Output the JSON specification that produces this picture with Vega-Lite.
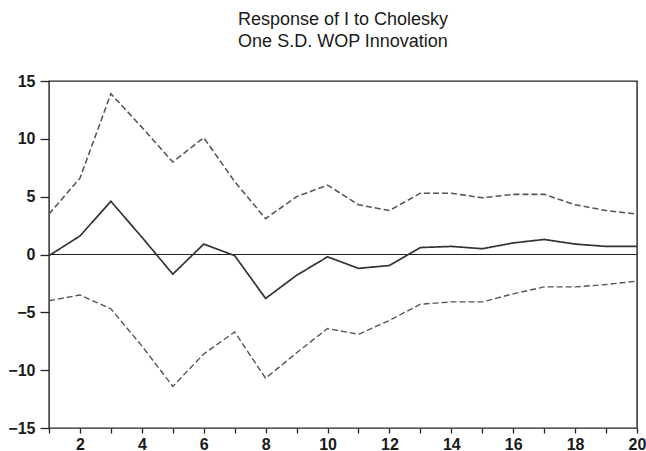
{
  "$schema": "https://vega.github.io/schema/vega-lite/v6.json",
  "width": 588,
  "height": 347,
  "autosize": {"type": "none"},
  "padding": {"left": 49, "top": 81, "right": 9, "bottom": 23},
  "background": "white",
  "config": {
    "view": {"stroke": "#222", "strokeWidth": 1.4},
    "font": "Liberation Sans"
  },
  "title": {
    "text": ["Response of I to Cholesky", "One S.D. WOP Innovation"],
    "fontSize": 18,
    "fontWeight": "normal",
    "font": "Liberation Sans",
    "color": "#1a1a1a",
    "lineHeight": 22,
    "anchor": "middle",
    "offset": 22
  },
  "data": {
    "values": [
      {"h": 1, "s": "response", "v": -0.1},
      {"h": 2, "s": "response", "v": 1.6},
      {"h": 3, "s": "response", "v": 4.6},
      {"h": 4, "s": "response", "v": 1.5},
      {"h": 5, "s": "response", "v": -1.7},
      {"h": 6, "s": "response", "v": 0.9},
      {"h": 7, "s": "response", "v": -0.1},
      {"h": 8, "s": "response", "v": -3.8},
      {"h": 9, "s": "response", "v": -1.8},
      {"h": 10, "s": "response", "v": -0.2},
      {"h": 11, "s": "response", "v": -1.2},
      {"h": 12, "s": "response", "v": -0.95},
      {"h": 13, "s": "response", "v": 0.6},
      {"h": 14, "s": "response", "v": 0.7},
      {"h": 15, "s": "response", "v": 0.5},
      {"h": 16, "s": "response", "v": 1.0},
      {"h": 17, "s": "response", "v": 1.3},
      {"h": 18, "s": "response", "v": 0.9},
      {"h": 19, "s": "response", "v": 0.7},
      {"h": 20, "s": "response", "v": 0.7},
      {"h": 1, "s": "upper", "v": 3.5},
      {"h": 2, "s": "upper", "v": 6.6},
      {"h": 3, "s": "upper", "v": 13.9},
      {"h": 4, "s": "upper", "v": 11.0},
      {"h": 5, "s": "upper", "v": 8.0},
      {"h": 6, "s": "upper", "v": 10.1},
      {"h": 7, "s": "upper", "v": 6.3},
      {"h": 8, "s": "upper", "v": 3.1},
      {"h": 9, "s": "upper", "v": 5.0},
      {"h": 10, "s": "upper", "v": 6.0},
      {"h": 11, "s": "upper", "v": 4.3},
      {"h": 12, "s": "upper", "v": 3.8},
      {"h": 13, "s": "upper", "v": 5.3},
      {"h": 14, "s": "upper", "v": 5.3},
      {"h": 15, "s": "upper", "v": 4.9},
      {"h": 16, "s": "upper", "v": 5.2},
      {"h": 17, "s": "upper", "v": 5.2},
      {"h": 18, "s": "upper", "v": 4.3},
      {"h": 19, "s": "upper", "v": 3.8},
      {"h": 20, "s": "upper", "v": 3.5},
      {"h": 1, "s": "lower", "v": -4.0},
      {"h": 2, "s": "lower", "v": -3.5},
      {"h": 3, "s": "lower", "v": -4.7},
      {"h": 4, "s": "lower", "v": -7.9},
      {"h": 5, "s": "lower", "v": -11.4},
      {"h": 6, "s": "lower", "v": -8.6},
      {"h": 7, "s": "lower", "v": -6.7},
      {"h": 8, "s": "lower", "v": -10.7},
      {"h": 9, "s": "lower", "v": -8.5},
      {"h": 10, "s": "lower", "v": -6.4},
      {"h": 11, "s": "lower", "v": -6.9},
      {"h": 12, "s": "lower", "v": -5.7},
      {"h": 13, "s": "lower", "v": -4.3},
      {"h": 14, "s": "lower", "v": -4.1},
      {"h": 15, "s": "lower", "v": -4.1},
      {"h": 16, "s": "lower", "v": -3.4},
      {"h": 17, "s": "lower", "v": -2.8},
      {"h": 18, "s": "lower", "v": -2.8},
      {"h": 19, "s": "lower", "v": -2.6},
      {"h": 20, "s": "lower", "v": -2.3}
    ]
  },
  "layer": [
    {
      "mark": {"type": "rule", "color": "#222", "strokeWidth": 1.2},
      "encoding": {"y": {"datum": 0, "type": "quantitative"}}
    },
    {
      "mark": {"type": "line", "clip": true},
      "encoding": {
        "x": {
          "field": "h",
          "type": "quantitative",
          "scale": {"domain": [1, 20], "nice": false, "zero": false},
          "axis": {
            "title": null,
            "values": [1,2,3,4,5,6,7,8,9,10,11,12,13,14,15,16,17,18,19,20],
            "labelExpr": "datum.value % 2 == 0 ? datum.label : ''",
            "grid": false,
            "domain": false,
            "tickColor": "#222",
            "tickSize": 5,
            "tickWidth": 1.3,
            "labelFont": "Liberation Sans",
            "labelFontSize": 16,
            "labelFontWeight": "bold",
            "labelColor": "#1a1a1a",
            "labelPadding": 3,
            "labelFlush": false
          }
        },
        "y": {
          "field": "v",
          "type": "quantitative",
          "scale": {"domain": [-15, 15], "nice": false},
          "axis": {
            "title": null,
            "values": [-15, -10, -5, 0, 5, 10, 15],
            "grid": false,
            "domain": false,
            "tickColor": "#222",
            "tickSize": 9,
            "tickWidth": 1.3,
            "labelFont": "Liberation Sans",
            "labelFontSize": 16,
            "labelFontWeight": "bold",
            "labelColor": "#1a1a1a",
            "labelPadding": 5
          }
        },
        "detail": {"field": "s"},
        "color": {
          "field": "s",
          "scale": {"domain": ["response", "upper", "lower"], "range": ["#333", "#555", "#555"]},
          "legend": null
        },
        "strokeDash": {
          "field": "s",
          "scale": {"domain": ["response", "upper", "lower"], "range": [[1, 0], [6, 3], [6, 3]]},
          "legend": null
        },
        "strokeWidth": {
          "field": "s",
          "scale": {"domain": ["response", "upper", "lower"], "range": [1.7, 1.4, 1.4]},
          "legend": null
        }
      }
    }
  ]
}
